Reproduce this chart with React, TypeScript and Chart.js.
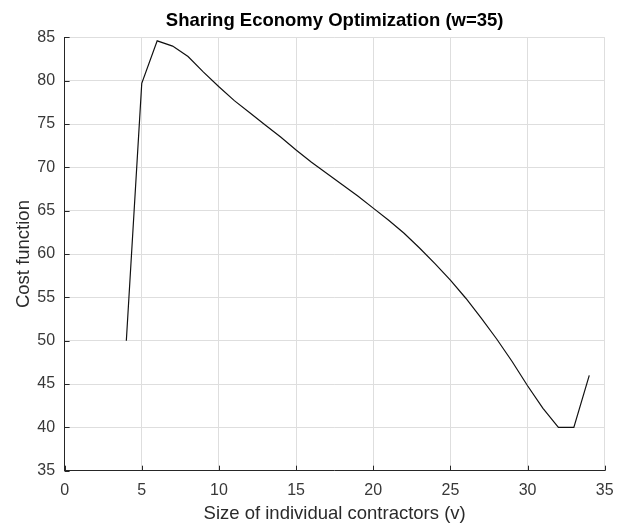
import React, { useEffect, useRef } from "react";
import { Chart, registerables } from "chart.js";

Chart.register(...registerables);

const vValues = [4, 5, 6, 7, 8, 9, 10, 11, 12, 13, 14, 15, 16, 17, 18, 19, 20, 21, 22, 23, 24, 25, 26, 27, 28, 29, 30, 31, 32, 33, 34];
const costValues = [50.0, 79.7, 84.6, 84.0, 82.8, 81.0, 79.3, 77.7, 76.3, 74.9, 73.5, 72.0, 70.6, 69.3, 68.0, 66.7, 65.3, 63.9, 62.4, 60.7, 58.9, 57.0, 54.9, 52.6, 50.2, 47.6, 44.8, 42.2, 40.0, 40.0, 46.0];

const titleText = "Sharing Economy Optimization (w=35)";
const xLabel = "Size of individual contractors (v)";
const yLabel = "Cost function";
const xRange = [0, 35];
const yRange = [35, 85];
const tickStep = 5;

const FONT = '"Liberation Sans", Arial, Helvetica, sans-serif';

export default function App() {
  const ref = useRef<HTMLCanvasElement | null>(null);

  useEffect(() => {
    document.body.style.margin = "0";
    const canvas = ref.current;
    if (!canvas) return;

    const titlePlugin = {
      id: "matlabTitle",
      afterDraw(chart: any) {
        const { ctx, chartArea } = chart;
        ctx.save();
        ctx.font = `bold 18.5px ${FONT}`;
        ctx.fillStyle = "#000";
        ctx.textAlign = "center";
        ctx.textBaseline = "alphabetic";
        ctx.fillText(titleText, (chartArea.left + chartArea.right) / 2, 26);
        ctx.restore();
      },
    };

    const innerTicks = {
      id: "innerTicks",
      afterDraw(chart: any) {
        const { ctx, chartArea } = chart;
        const xs = chart.scales.x;
        const ys = chart.scales.y;
        ctx.save();
        ctx.strokeStyle = "#262626";
        ctx.lineWidth = 1;
        ctx.beginPath();
        xs.ticks.forEach((t: any) => {
          const px = Math.round(xs.getPixelForValue(t.value)) + 0.5;
          ctx.moveTo(px, chartArea.bottom);
          ctx.lineTo(px, chartArea.bottom - 5);
        });
        ys.ticks.forEach((t: any) => {
          const py = Math.round(ys.getPixelForValue(t.value)) + 0.5;
          ctx.moveTo(chartArea.left, py);
          ctx.lineTo(chartArea.left + 5, py);
        });
        ctx.stroke();
        ctx.restore();
      },
    };

    const chart = new Chart(canvas, {
      type: "line",
      data: {
        datasets: [
          {
            data: vValues.map((v, i) => ({ x: v, y: costValues[i] })),
            borderColor: "#111",
            borderWidth: 1.2,
            pointRadius: 0,
            tension: 0,
            fill: false,
          },
        ],
      },
      options: {
        responsive: false,
        animation: false,
        layout: { padding: { left: 0, right: 8.5, top: 37.4, bottom: 0 } },
        plugins: {
          legend: { display: false },
          title: { display: false },
          tooltip: { enabled: false },
        },
        scales: {
          x: {
            type: "linear",
            min: xRange[0],
            max: xRange[1],
            afterFit: (scale: any) => {
              scale.height = 55.3;
            },
            ticks: {
              stepSize: tickStep,
              padding: 10.4,
              color: "#383838",
              font: { family: FONT, size: 16 },
              maxRotation: 0,
            },
            grid: { color: "#dedede", lineWidth: 1, drawTicks: false },
            border: { display: true, color: "#262626", width: 1 },
            title: {
              display: true,
              text: xLabel,
              color: "#2a2a2a",
              font: { family: FONT, size: 18.5 },
              padding: { top: 0, bottom: 1.4 },
            },
          },
          y: {
            type: "linear",
            min: yRange[0],
            max: yRange[1],
            afterFit: (scale: any) => {
              scale.width = 64.6;
            },
            ticks: {
              stepSize: tickStep,
              padding: 9.5,
              color: "#383838",
              font: { family: FONT, size: 16 },
            },
            grid: { color: "#dedede", lineWidth: 1, drawTicks: false },
            border: { display: true, color: "#262626", width: 1 },
            title: {
              display: true,
              text: yLabel,
              color: "#2a2a2a",
              font: { family: FONT, size: 18.5 },
              padding: { top: 13, bottom: 0 },
            },
          },
        },
      },
      plugins: [titlePlugin, innerTicks],
    });

    return () => {
      chart.destroy();
    };
  }, []);

  return <canvas ref={ref} width={624} height={526} style={{ display: "block" }} />;
}
